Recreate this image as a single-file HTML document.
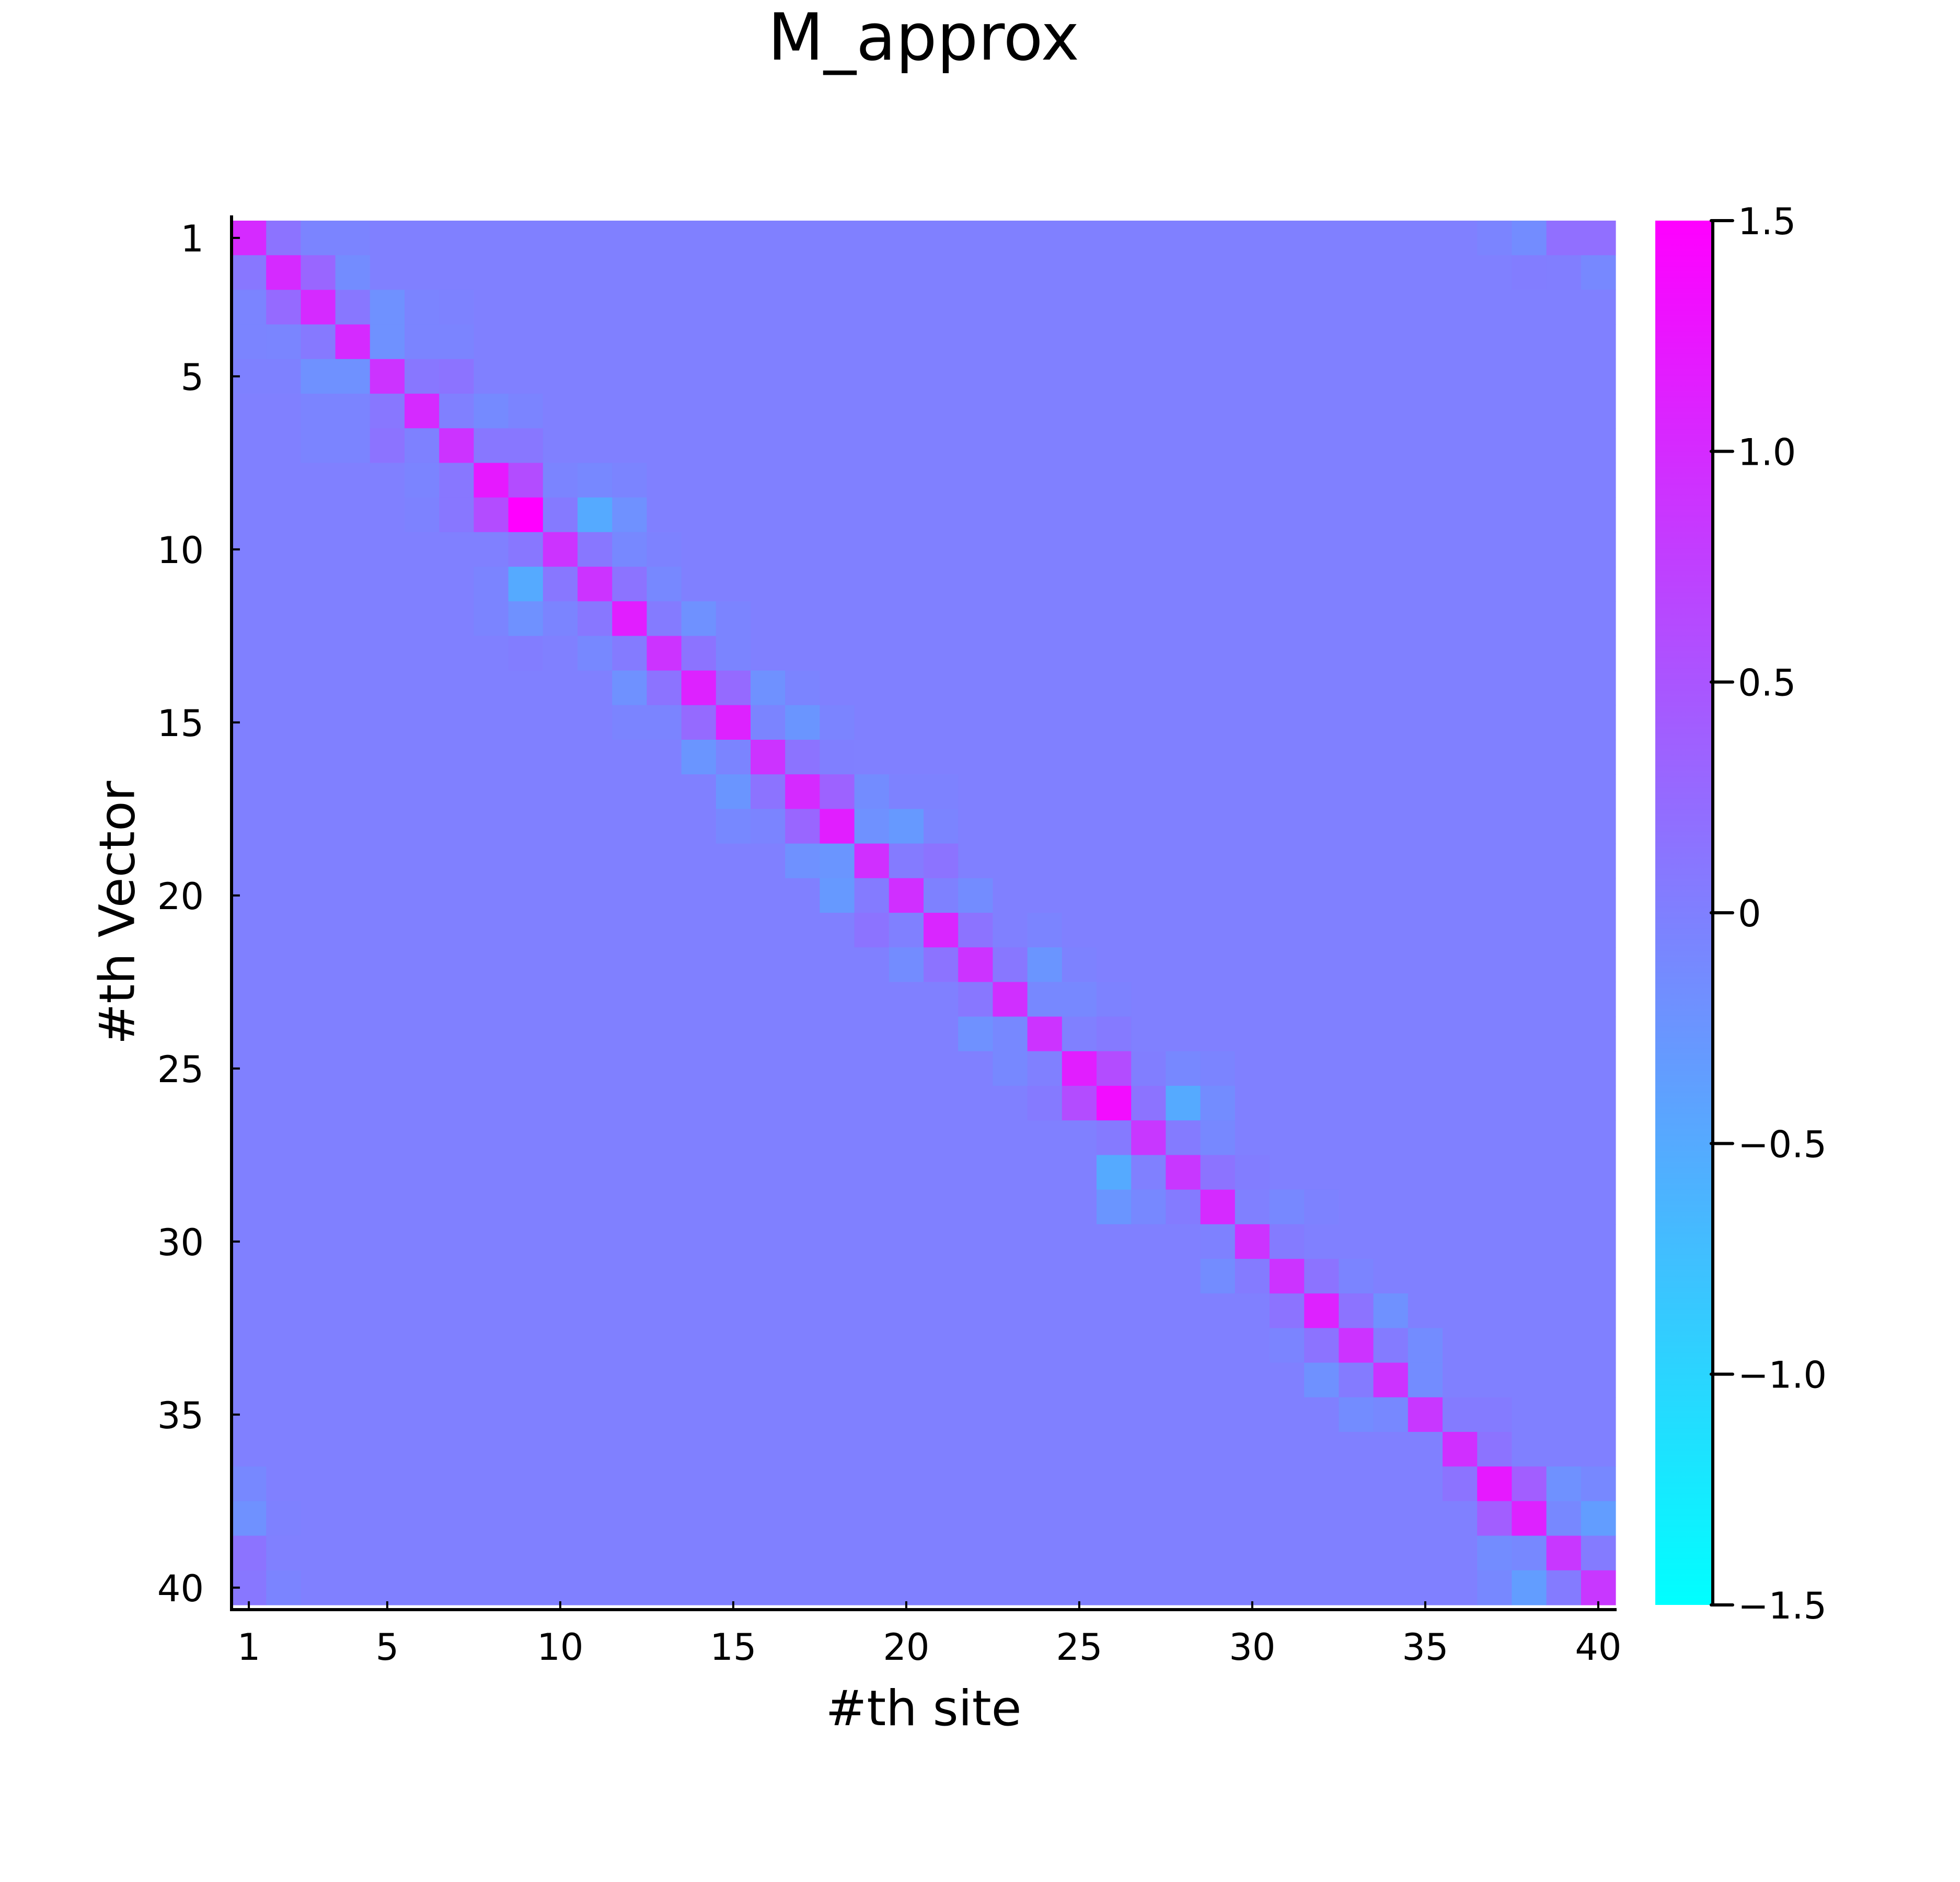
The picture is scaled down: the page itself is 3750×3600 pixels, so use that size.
<!DOCTYPE html>
<html><head><meta charset="utf-8"><title>M_approx</title>
<style>html,body{margin:0;padding:0;background:#fff;}svg{display:block;}text{font-family:"DejaVu Sans","Liberation Sans",sans-serif;fill:#000;}</style>
</head><body>
<svg id="chart" width="3750" height="3600" viewBox="0 0 3750 3600" xmlns="http://www.w3.org/2000/svg">
<defs><linearGradient id="cool" x1="0" y1="1" x2="0" y2="0"><stop offset="0" stop-color="#00ffff"/><stop offset="1" stop-color="#ff00ff"/></linearGradient></defs>
<text x="1767" y="114" font-size="124" text-anchor="middle">M_approx</text>
<g id="cells"></g>
<g id="axes"></g>
<rect x="3167" y="422" width="107" height="2648" fill="url(#cool)"/>
<g id="cbar"></g>
<text x="1767" y="3300" font-size="94" text-anchor="middle">#th site</text>
<text x="0" y="0" font-size="94" text-anchor="middle" transform="translate(225,1746) rotate(-90)" dominant-baseline="central">#th Vector</text>
</svg>
<script>
const nRows = 40, nCols = 40;
const xTicks = [1,5,10,15,20,25,30,35,40];
const yTicks = [1,5,10,15,20,25,30,35,40];
const cbarTicks = [1.5,1.0,0.5,0,-0.5,-1.0,-1.5];
const cbarTickLabels = ["1.5","1.0","0.5","0","\u22120.5","\u22121.0","\u22121.5"];
const entryRow = [1,1,1,1,1,1,1,1, 2,2,2,2,2,2,2, 3,3,3,3,3,3,3, 4,4,4,4,4,4,4, 5,5,5,5,5,5,5, 6,6,6,6,6,6, 7,7,7,7,7,7,7, 8,8,8,8,8,8,8, 9,9,9,9,9,9,9, 10,10,10,10,10, 11,11,11,11,11,11, 12,12,12,12,12,12,12,12, 13,13,13,13,13,13, 14,14,14,14,14,14, 15,15,15,15,15,15,15, 16,16,16,16,16, 17,17,17,17,17,17,17, 18,18,18,18,18,18,18, 19,19,19,19,19, 20,20,20,20,20, 21,21,21,21,21, 22,22,22,22,22,22, 23,23,23,23,23, 24,24,24,24, 25,25,25,25,25,25, 26,26,26,26,26,26, 27,27,27,27, 28,28,28,28, 29,29,29,29,29,29, 30,30,30, 31,31,31,31,31, 32,32,32,32, 33,33,33,33,33, 34,34,34,34, 35,35,35,35,35, 36,36, 37,37,37,37,37,37, 38,38,38,38,38,38, 39,39,39,39,39, 40,40,40,40,40,40];
const entryCol = [1,2,3,4,37,38,39,40, 1,2,3,4,38,39,40, 1,2,3,4,5,6,7, 1,2,3,4,5,6,7, 1,2,3,4,5,6,7, 3,4,5,6,8,9, 3,4,5,6,7,8,9, 6,7,8,9,10,11,12, 6,7,8,9,10,11,12, 9,10,11,12,13, 8,9,10,11,12,13, 8,9,10,11,12,13,14,15, 9,11,12,13,14,15, 12,13,14,15,16,17, 12,13,14,15,16,17,18, 14,15,16,17,18, 15,16,17,18,19,20,21, 15,16,17,18,19,20,21, 17,18,19,20,21, 18,19,20,21,22, 19,21,22,23,24, 20,21,22,23,24,25, 22,23,24,25,26, 22,23,24,26, 23,25,26,27,28,29, 24,25,26,27,28,29, 26,27,28,29, 26,28,29,30, 26,27,28,29,31,32, 29,30,31, 29,30,31,32,33, 31,32,33,34, 31,32,33,34,35, 32,33,34,35, 33,34,35,36,37, 36,37, 1,36,37,38,39,40, 1,2,37,38,39,40, 1,37,38,39,40, 1,2,37,38,39,40];
const entryVal = [1.0,0.15,-0.05,-0.05,-0.05,-0.15,0.2,0.2, 0.1,1.0,0.3,-0.15,0.03,0.02,-0.1, -0.05,0.25,1.0,0.1,-0.2,-0.05,-0.03, -0.05,-0.07,0.08,1.0,-0.2,-0.05,-0.05, -0.02,-0.02,-0.2,-0.2,0.9,0.1,0.15, -0.05,-0.05,0.1,1.0,-0.12,-0.05, -0.05,-0.05,0.15,-0.02,0.9,0.1,0.1, -0.05,0.1,1.2,0.6,-0.05,-0.1,-0.05, -0.03,0.1,0.6,1.5,0.07,-0.5,-0.2, 0.1,0.9,0.1,-0.1,-0.03, -0.05,-0.5,0.1,0.9,0.15,-0.1, -0.05,-0.2,-0.05,0.1,1.15,0.05,-0.2,-0.05, 0.03,-0.1,0.05,0.9,0.15,-0.05, -0.2,0.15,1.1,0.25,-0.2,-0.05, -0.05,-0.05,0.25,1.1,-0.05,-0.25,-0.05, -0.25,-0.05,0.9,0.15,0.01, -0.25,0.15,1.0,0.35,-0.15,-0.03,-0.03, -0.1,-0.05,0.3,1.15,-0.2,-0.3,-0.05, -0.2,-0.25,0.95,0.05,0.15, -0.3,0.05,0.95,-0.02,-0.15, 0.15,1.05,0.15,0.0,-0.05, -0.15,0.15,0.9,0.1,-0.25,-0.03, 0.1,0.95,-0.1,-0.1,-0.03, -0.2,-0.1,0.9,0.07, -0.1,1.15,0.6,0.02,-0.1,-0.05, 0.07,0.6,1.35,0.15,-0.5,-0.15, 0.07,0.85,0.05,-0.1, -0.5,0.85,0.15,0.03, -0.25,-0.1,0.05,1.0,-0.1,-0.03, -0.02,0.9,0.05, -0.15,0.05,0.9,0.15,-0.05, 0.15,1.1,0.15,-0.2, -0.05,0.15,0.9,0.05,-0.15, -0.2,0.05,0.9,-0.15, -0.15,-0.1,0.85,0.05,0.05, 0.95,0.15, -0.1,0.15,1.2,0.4,-0.2,-0.1, -0.2,-0.02,0.4,1.1,-0.1,-0.35, 0.15,-0.15,-0.1,0.85,0.05, 0.1,-0.05,-0.1,-0.35,0.05,0.85];
const vMin = -1.5, vMax = 1.5;

const NS = "http://www.w3.org/2000/svg";
const X0 = 443, X1 = 3091, Y0 = 422, Y1 = 3070;
const cw = (X1 - X0) / nCols, ch = (Y1 - Y0) / nRows;
function xPos(c){ return X0 + (c - 0.5) * cw; }
function yPos(r){ return Y0 + (r - 0.5) * ch; }
function cbY(v){ return Y1 - (v - vMin) / (vMax - vMin) * (Y1 - Y0); }
function color(v){
  let t = (v - vMin) / (vMax - vMin); t = Math.max(0, Math.min(1, t));
  const r = Math.round(255 * t), g = Math.round(255 * (1 - t));
  return "rgb(" + r + "," + g + ",255)";
}
function mk(tag, attrs){ const e = document.createElementNS(NS, tag); for (const k in attrs) e.setAttribute(k, attrs[k]); return e; }

const M = [];
for (let r = 1; r <= nRows; r++){ M[r] = []; for (let c = 1; c <= nCols; c++) M[r][c] = 0; }
for (let i = 0; i < entryRow.length; i++) M[entryRow[i]][entryCol[i]] = entryVal[i];

const cells = document.getElementById("cells");
for (let r = 1; r <= nRows; r++){
  for (let c = 1; c <= nCols; c++){
    const rect = mk("rect", {x: (xPos(c) - cw/2).toFixed(2), y: (yPos(r) - ch/2).toFixed(2), width: (cw + 0.6).toFixed(2), height: (ch + 0.6).toFixed(2), fill: color(M[r][c])});
    
    
    cells.appendChild(rect);
  }
}

const axes = document.getElementById("axes");
const yAxis = mk("line", {x1: X0, y1: 412, x2: X0, y2: 3081, stroke: "#000", "stroke-width": 6});


axes.appendChild(yAxis);
const xAxis = mk("line", {x1: X0 - 3, y1: 3079, x2: X1 + 2, y2: 3079, stroke: "#000", "stroke-width": 6});


axes.appendChild(xAxis);
xTicks.forEach(function(t){
  const tk = mk("line", {x1: xPos(t), y1: 3079, x2: xPos(t), y2: 3063, stroke: "#000", "stroke-width": 4});
  
  
  axes.appendChild(tk);
  const lb = mk("text", {x: xPos(t), y: 3175, "font-size": 70, "text-anchor": "middle"});
  lb.textContent = String(t);
  
  
  axes.appendChild(lb);
});
yTicks.forEach(function(t){
  const tk = mk("line", {x1: X0, y1: yPos(t), x2: X0 + 16, y2: yPos(t), stroke: "#000", "stroke-width": 4});
  
  
  axes.appendChild(tk);
  const lb = mk("text", {x: 390, y: yPos(t) + 26, "font-size": 70, "text-anchor": "end"});
  lb.textContent = String(t);
  
  
  axes.appendChild(lb);
});

const cbar = document.getElementById("cbar");
const cbLine = mk("line", {x1: 3277, y1: Y0, x2: 3277, y2: Y1, stroke: "#000", "stroke-width": 6});


cbar.appendChild(cbLine);
cbarTicks.forEach(function(v, i){
  const tk = mk("line", {x1: 3274, y1: cbY(v), x2: 3315, y2: cbY(v), stroke: "#000", "stroke-width": 6, "stroke-linecap": "round"});
  
  
  cbar.appendChild(tk);
  const lb = mk("text", {x: 3325, y: cbY(v) + 26, "font-size": 70});
  lb.textContent = cbarTickLabels[i];
  
  
  cbar.appendChild(lb);
});
</script>
</body></html>
